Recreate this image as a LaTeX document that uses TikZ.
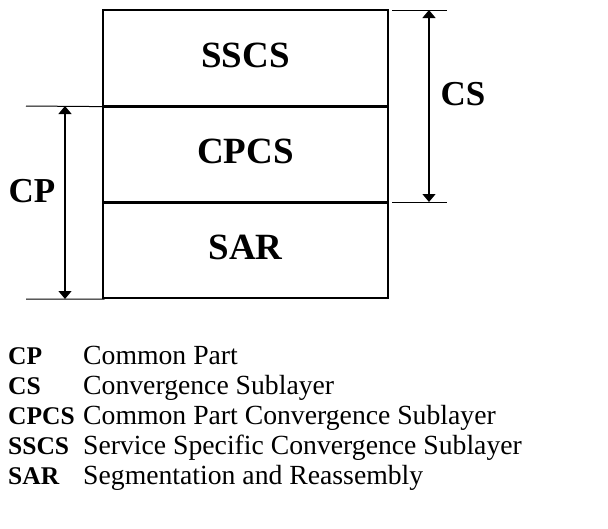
\documentclass[tikz,border=0pt]{standalone}
\usepackage{fontspec}
\setmainfont{Liberation Serif}
\usetikzlibrary{arrows.meta}
\begin{document}
\begin{tikzpicture}[x=1pt,y=-1pt,
  layer/.style={draw,line width=1.2pt,minimum width=285pt,minimum height=96pt,
    inner sep=0pt,text depth=6pt,font=\fontsize{37}{37}\selectfont\bfseries},
  sep/.style={line width=2.2pt},
  ext/.style={line width=1pt},
  dimline/.style={line width=1.2pt,{Triangle[width=13pt,length=8pt]}-{Triangle[width=13pt,length=8pt]}},
  dimlabel/.style={inner sep=0pt,font=\fontsize{35}{35}\selectfont\bfseries},
  abbr/.style={anchor=base west,inner sep=0pt,font=\fontsize{25.5}{25.5}\selectfont\bfseries},
  desc/.style={anchor=base west,inner sep=0pt,font=\fontsize{27.7}{27.7}\selectfont}]
\useasboundingbox[fill=white] (0,0) rectangle (608,528);

% the three stacked sublayers
\node[layer] (sscs) at (245.5,58)  {SSCS};
\node[layer] (cpcs) at (245.5,154) {CPCS};
\node[layer] (sar)  at (245.5,250) {SAR};
\draw[sep] (sscs.south west) -- (sscs.south east);
\draw[sep] (cpcs.south west) -- (cpcs.south east);

% CS dimension on the right
\coordinate (csExtTopL) at (392,10);  \coordinate (csExtTopR) at (447,10);
\coordinate (csExtBotL) at (392,202); \coordinate (csExtBotR) at (447,202);
\coordinate (csTop) at (429,10); \coordinate (csBot) at (429,202);
\draw[ext] (csExtTopL) -- (csExtTopR);
\draw[ext] (csExtBotL) -- (csExtBotR);
\draw[dimline] (csTop) -- (csBot);
\node[dimlabel] (cs) at (463,94) {CS};

% CP dimension on the left
\coordinate (cpExtTopL) at (26,106); \coordinate (cpExtBotL) at (26,299);
\coordinate (cpExtBotR) at (103,299);
\coordinate (cpTop) at (65,106); \coordinate (cpBot) at (65,299);
\draw[ext] (cpExtTopL) -- (sscs.south west);
\draw[ext] (cpExtBotL) -- (cpExtBotR) -- (sar.south west);
\draw[dimline] (cpTop) -- (cpBot);
\node[dimlabel] (cp) at (32,191) {CP};

% legend
\node[abbr] (l1a) at (8,364)   {CP};
\node[desc] (l1d) at (83,364)  {Common Part};
\node[abbr] (l2a) at (8,394.5) {CS};
\node[desc] (l2d) at (83,394.5) {Convergence Sublayer};
\node[abbr] (l3a) at (8,424.5) {CPCS};
\node[desc] (l3d) at (83,424.5) {Common Part Convergence Sublayer};
\node[abbr] (l4a) at (8,454.5) {SSCS};
\node[desc] (l4d) at (83,454.5) {Service Specific Convergence Sublayer};
\node[abbr] (l5a) at (8,484.5) {SAR};
\node[desc] (l5d) at (83,484.5) {Segmentation and Reassembly};
\end{tikzpicture}
\end{document}
